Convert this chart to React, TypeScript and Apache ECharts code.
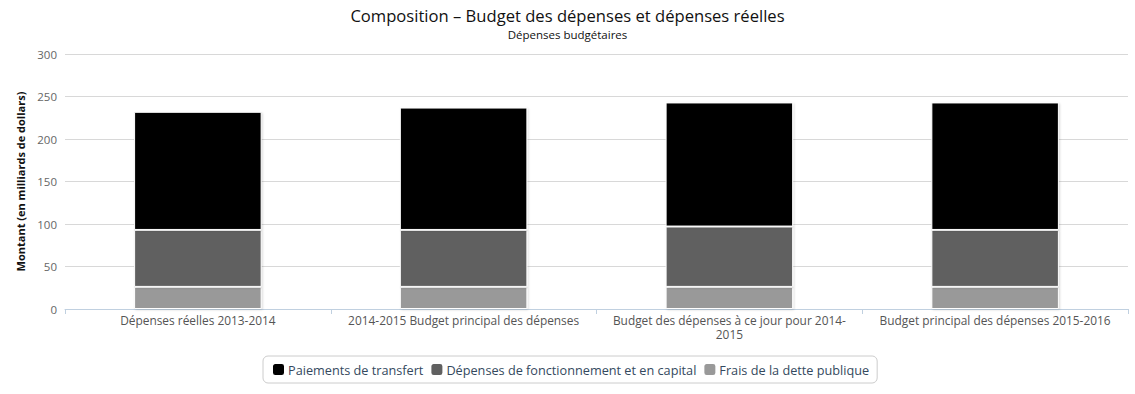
import React, { useEffect, useRef } from "react";
import * as echarts from "echarts";

const categories = [
  "Dépenses réelles 2013-2014",
  "2014-2015 Budget principal des dépenses",
  "Budget des dépenses à ce jour pour 2014-2015",
  "Budget principal des dépenses 2015-2016",
];
const fraisDette = [26, 26, 26, 26];
const depensesFonctionnement = [67, 67, 71, 67];
const paiementsTransfert = [139, 144, 146, 150];

const seriesNames = [
  "Paiements de transfert",
  "Dépenses de fonctionnement et en capital",
  "Frais de la dette publique",
];
const yTicks = { min: 0, max: 300, interval: 50 };

const FONT = "'Open Sans', 'DejaVu Sans', sans-serif";

// wrap a label at spaces or after hyphens, max characters per line
function wrapLabel(text: string, maxChars: number): string {
  const tokens = text.match(/[^\s-]+-?|\s+/g) || [text];
  const lines: string[] = [];
  let cur = "";
  for (const t of tokens) {
    if ((cur + t).trimEnd().length > maxChars && cur.trim().length > 0) {
      lines.push(cur.trimEnd());
      cur = t.trimStart();
    } else {
      cur += t;
    }
  }
  if (cur.trim().length) lines.push(cur.trim());
  return lines.join("\n");
}

export default function App() {
  const ref = useRef<HTMLDivElement>(null);
  useEffect(() => {
    if (!ref.current) return;
    const chart = echarts.init(ref.current, undefined, { renderer: "svg" });
    const barStyle = (color: string) => ({
      color,
      borderColor: "#ffffff",
      borderWidth: 1,
      shadowColor: "rgba(0,0,0,0.15)",
      shadowBlur: 2,
      shadowOffsetX: 1,
      shadowOffsetY: 1,
    });
    chart.setOption({
      animation: false,
      textStyle: { fontFamily: FONT },
      title: [
        {
          text: "Composition – Budget des dépenses et dépenses réelles",
          left: "center",
          top: 7,
          padding: 0,
          textStyle: { fontSize: 16.6, fontWeight: "normal", color: "#111", fontFamily: FONT },
        },
        {
          text: "Dépenses budgétaires",
          left: "center",
          top: 28,
          padding: 0,
          textStyle: { fontSize: 11.5, fontWeight: "normal", color: "#111", fontFamily: FONT },
        },
      ],
      legend: {
        data: seriesNames,
        bottom: 11,
        left: 263,
        icon: "roundRect",
        itemWidth: 13,
        itemHeight: 13,
        itemGap: 6,
        padding: [6, 8],
        borderColor: "#cccccc",
        borderWidth: 1,
        borderRadius: 5,
        textStyle: { fontSize: 12.7, color: "#34495e", fontFamily: FONT, padding: [0, 0, 0, -2] },
      },
      grid: { left: 65, right: 7, top: 54, bottom: 85 },
      xAxis: {
        type: "category",
        data: categories,
        boundaryGap: true,
        axisLine: { show: true, lineStyle: { color: "#c0d0e0", width: 1 } },
        axisTick: { show: true, length: 5, lineStyle: { color: "#c0d0e0" } },
        axisLabel: {
          interval: 0,
          fontSize: 11.9,
          color: "#555",
          margin: 4,
          lineHeight: 14,
          fontFamily: FONT,
          formatter: (v: string) => wrapLabel(v, 40),
        },
      },
      yAxis: {
        type: "value",
        min: yTicks.min,
        max: yTicks.max,
        interval: yTicks.interval,
        name: "Montant (en milliards de dollars)",
        nameLocation: "middle",
        nameRotate: 90,
        nameGap: 38,
        nameTextStyle: { fontSize: 11, fontWeight: "bold", color: "#111", fontFamily: FONT },
        axisLine: { show: false },
        axisTick: { show: false },
        axisLabel: { fontSize: 11.5, color: "#666", margin: 8, fontFamily: FONT },
        splitLine: { lineStyle: { color: "#d8d8d8", width: 1 } },
      },
      series: [
        {
          name: seriesNames[2],
          type: "bar",
          stack: "total",
          data: fraisDette,
          barWidth: "48%",
          itemStyle: barStyle("#999999"),
        },
        {
          name: seriesNames[1],
          type: "bar",
          stack: "total",
          data: depensesFonctionnement,
          barWidth: "48%",
          itemStyle: barStyle("#606060"),
        },
        {
          name: seriesNames[0],
          type: "bar",
          stack: "total",
          data: paiementsTransfert,
          barWidth: "48%",
          itemStyle: barStyle("#000000"),
        },
      ],
    });
    return () => chart.dispose();
  }, []);
  return (
    <div
      ref={ref}
      style={{ position: "fixed", left: 0, top: 0, width: 1135, height: 394, background: "#fff" }}
    />
  );
}
